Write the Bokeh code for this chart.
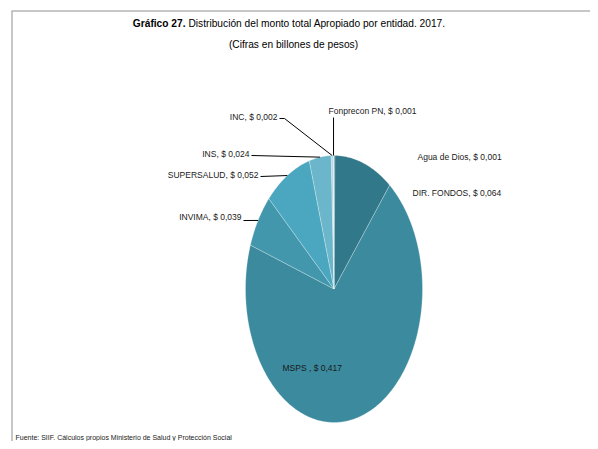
import numpy as np
from bokeh.plotting import figure
from bokeh.models import Range1d
from bokeh.core.properties import value
from bokeh.embed import file_html
from bokeh.resources import INLINE

# ---- data (clockwise from 12 o'clock) ----
entities = ["Agua de Dios", "DIR. FONDOS", "MSPS", "INVIMA", "SUPERSALUD", "INS", "INC", "Fonprecon PN"]
amounts = [0.001, 0.064, 0.417, 0.039, 0.052, 0.024, 0.002, 0.001]
colors = ["#2d6e7e", "#31788a", "#3b8a9e", "#4297ac", "#4aa7bf", "#6bb6ca", "#a8d3df", "#cbe5ec"]

title_bold = "Gráfico 27."
title_rest = "Distribución del monto total Apropiado por entidad.  2017."
subtitle = "(Cifras en billones de pesos)"
source_note = "Fuente: SIIF. Cálculos propios Ministerio de Salud y Protección Social"

FONT = "Liberation Sans"

# ---- layout (page pixel coords, y downward) ----
cx, cy, rx, ry = 333.5, 288.5, 88.5, 133.5
W, H = 590, 441

p = figure(width=W, height=H, output_backend="svg", toolbar_location=None,
           x_range=Range1d(0, W), y_range=Range1d(H, 0),
           min_border=0, x_axis_location=None, y_axis_location=None)
p.grid.visible = False
p.outline_line_color = None
p.background_fill_color = "white"

# frame lines (top and left) like the original border
p.line(x=[11, W], y=[10.5, 10.5], line_color="#b4b4b4", line_width=1.5)
p.line(x=[11.5, 11.5], y=[10.5, H], line_color="#b4b4b4", line_width=1.5)

# ---- pie slices as elliptical patches ----
vals = np.array(amounts)
cum = np.concatenate([[0], np.cumsum(vals)]) / vals.sum() * 2 * np.pi
xs, ys, mids = [], [], []
for i in range(len(vals)):
    a0, a1 = cum[i], cum[i + 1]
    t = np.linspace(a0, a1, max(3, int((a1 - a0) / 0.01) + 2))
    xs.append([cx] + list(cx + rx * np.sin(t)) + [cx])
    ys.append([cy] + list(cy - ry * np.cos(t)) + [cy])
    mids.append((a0 + a1) / 2)
p.patches(xs=xs, ys=ys, fill_color=colors, line_color="white", line_alpha=0.45, line_width=0.6)

def edge(i):
    m = mids[i]
    return cx + rx * np.sin(m), cy - ry * np.cos(m)

def fmt(v):
    return "$ " + f"{v:.3f}".replace(".", ",")

labels = [f"{n}, {fmt(v)}" for n, v in zip(entities, amounts)]

# label anchor positions (layout only)
label_pos = {
    "Agua de Dios": (417, 156, "left"),
    "DIR. FONDOS": (412, 192, "left"),
    "MSPS": (282, 367, "left"),
    "INVIMA": (241, 216, "right"),
    "SUPERSALUD": (258, 174, "right"),
    "INS": (249, 153, "right"),
    "INC": (277, 116, "right"),
    "Fonprecon PN": (372, 110, "center"),
}
for name, lab in zip(entities, labels):
    x, y, al = label_pos[name]
    if name == "MSPS":
        lab = lab.replace("MSPS,", "MSPS ,")
    p.text(x=[x], y=[y], text=[lab], text_font=value(FONT), text_font_size="8.5px",
           text_align=al, text_baseline="middle", text_color="#1a1a1a")

# leader lines
leader_start = {
    "INVIMA": [(243, 220)],
    "SUPERSALUD": [(260, 176)],
    "INS": [(251, 155)],
    "INC": [(279, 118), (284, 118)],
    "Fonprecon PN": [None],
}
lx, ly = [], []
for name, pts in leader_start.items():
    i = entities.index(name)
    ex, ey = edge(i)
    if pts[0] is None:
        lx.append([ex, ex]); ly.append([117, ey])
    else:
        lx.append([q[0] for q in pts] + [ex]); ly.append([q[1] for q in pts] + [ey])
p.multi_line(xs=lx, ys=ly, line_color="black", line_width=1)

# titles
p.text(x=[185], y=[23], text=[title_bold], text_font=value(FONT), text_font_size="10.2px",
       text_font_style="bold", text_align="right", text_baseline="middle", text_color="black")
p.text(x=[188], y=[23], text=[title_rest], text_font=value(FONT), text_font_size="10.2px",
       text_align="left", text_baseline="middle", text_color="black")
p.text(x=[293], y=[44], text=[subtitle], text_font=value(FONT), text_font_size="10.2px",
       text_align="center", text_baseline="middle", text_color="black")
p.text(x=[15], y=[437], text=[source_note], text_font=value(FONT), text_font_size="7px",
       text_align="left", text_baseline="middle", text_color="#1a1a1a")

open("out.html", "w").write(file_html(p, INLINE))
